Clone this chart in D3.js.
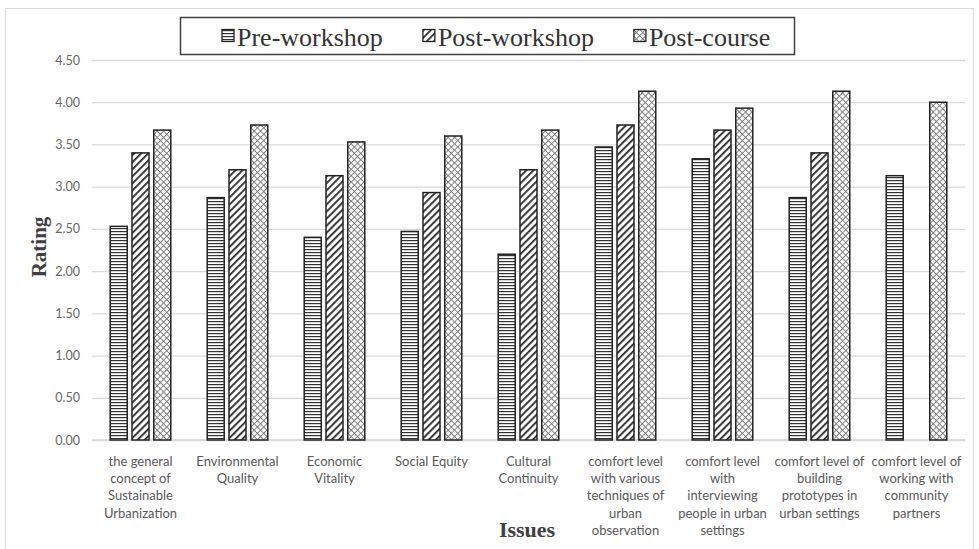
<!DOCTYPE html>
<html>
<head>
<meta charset="utf-8">
<script src="https://cdn.jsdelivr.net/npm/d3@7"></script>
<style>
  html, body { margin: 0; padding: 0; background: #fff; }
  svg { display: block; }
</style>
</head>
<body>
<svg id="chart" width="979" height="549"></svg>
<script>
// Category labels, one entry per line of the wrapped label
const categories = [
  ["the general", "concept of", "Sustainable", "Urbanization"],
  ["Environmental", "Quality"],
  ["Economic", "Vitality"],
  ["Social Equity"],
  ["Cultural", "Continuity"],
  ["comfort level", "with various", "techniques of", "urban", "observation"],
  ["comfort level", "with", "interviewing", "people in urban", "settings"],
  ["comfort level of", "building", "prototypes in", "urban settings"],
  ["comfort level of", "working with", "community", "partners"]
];
const seriesNames = ["Pre-workshop", "Post-workshop", "Post-course"];
const preWorkshop  = [2.53, 2.87, 2.40, 2.47, 2.20, 3.47, 3.33, 2.87, 3.13];
const postWorkshop = [3.40, 3.20, 3.13, 2.93, 3.20, 3.73, 3.67, 3.40, null];
const postCourse   = [3.67, 3.73, 3.53, 3.60, 3.67, 4.13, 3.93, 4.13, 4.00];
const yTicks = [0, 0.5, 1, 1.5, 2, 2.5, 3, 3.5, 4, 4.5];
const yTitle = "Rating";
const xTitle = "Issues";

const seriesValues = [preWorkshop, postWorkshop, postCourse];
const patternIds = ["pat-horiz", "pat-diag", "pat-cross"];

const svg = d3.select("#chart");
const plot = { left: 92, right: 965, top: 60, bottom: 440 };

// Fill patterns
const defs = svg.append("defs");
const ph = defs.append("pattern").attr("id", "pat-horiz")
  .attr("patternUnits", "userSpaceOnUse").attr("width", 6).attr("height", 3);
ph.append("rect").attr("width", 6).attr("height", 3).attr("fill", "#fff");
ph.append("rect").attr("y", 0).attr("width", 6).attr("height", 1.2).attr("fill", "#333");

const pd = defs.append("pattern").attr("id", "pat-diag")
  .attr("patternUnits", "userSpaceOnUse").attr("width", 5).attr("height", 5)
  .attr("patternTransform", "rotate(45)");
pd.append("rect").attr("width", 5).attr("height", 5).attr("fill", "#fff");
pd.append("rect").attr("x", 0).attr("width", 1.8).attr("height", 5).attr("fill", "#2a2a2a");

const pc = defs.append("pattern").attr("id", "pat-cross")
  .attr("patternUnits", "userSpaceOnUse").attr("width", 4.5).attr("height", 4.5)
  .attr("patternTransform", "rotate(45)");
pc.append("rect").attr("width", 4.5).attr("height", 4.5).attr("fill", "#fff");
pc.append("rect").attr("width", 0.9).attr("height", 4.5).attr("fill", "#777");
pc.append("rect").attr("width", 4.5).attr("height", 0.9).attr("fill", "#777");

// Outer chart frame
svg.append("rect")
  .attr("x", 5.5).attr("y", 8.5).attr("width", 968).attr("height", 560)
  .attr("fill", "#fff").attr("stroke", "#d9d9d9").attr("stroke-width", 1);

// Scales
const catKeys = categories.map((c, i) => i);
const x0 = d3.scaleBand().domain(catKeys).range([plot.left, plot.right])
  .paddingInner(0.36).paddingOuter(0.18);
const x1 = d3.scaleBand().domain(d3.range(seriesNames.length))
  .range([0, x0.bandwidth()]).paddingInner(0.15);
const y = d3.scaleLinear().domain([0, 4.5]).range([plot.bottom, plot.top]);

// Gridlines and y tick labels
const yAxis = d3.axisLeft(y).tickValues(yTicks)
  .tickFormat(d => d.toFixed(2))
  .tickSize(-(plot.right - plot.left)).tickPadding(12);
const gy = svg.append("g").attr("transform", `translate(${plot.left},0)`).call(yAxis);
gy.select(".domain").remove();
gy.selectAll(".tick line").attr("stroke", "#d9d9d9").attr("stroke-width", 1.3);
gy.selectAll(".tick text")
  .attr("font-family", "Lato, 'Open Sans', sans-serif")
  .attr("font-size", 12.5).attr("fill", "#666");

// Category axis
const xAxis = d3.axisBottom(x0).tickSize(0).tickFormat("");
const gx = svg.append("g").attr("transform", `translate(0,${plot.bottom})`).call(xAxis);
gx.select(".domain").attr("stroke", "#d9d9d9").attr("stroke-width", 1.3)
  .attr("d", `M${plot.left},0H${plot.right}`);
gx.selectAll(".tick").each(function(d) {
  const t = d3.select(this).append("text")
    .attr("text-anchor", "middle")
    .attr("font-family", "Lato, 'Open Sans', sans-serif")
    .attr("font-size", 13).attr("fill", "#595959");
  categories[d].forEach((line, k) => {
    t.append("tspan").attr("x", 0).attr("y", 26 + k * 17.2).text(line);
  });
});

// Bars
const groups = svg.append("g").selectAll("g")
  .data(catKeys).join("g")
  .attr("transform", d => `translate(${x0(d)},0)`);
groups.selectAll("rect")
  .data(ci => seriesValues.map((vals, si) => ({ si, v: vals[ci] })).filter(o => o.v != null))
  .join("rect")
  .attr("x", o => x1(o.si) + 0.75)
  .attr("width", x1.bandwidth() - 1.5)
  .attr("y", o => y(o.v))
  .attr("height", o => y(0) - y(o.v))
  .attr("fill", o => `url(#${patternIds[o.si]})`)
  .attr("stroke", "#222").attr("stroke-width", 1.5);

// Axis titles
svg.append("text")
  .attr("transform", `translate(39,247) rotate(-90)`)
  .attr("text-anchor", "middle").attr("dominant-baseline", "central")
  .attr("font-family", "'Liberation Serif', 'Times New Roman', serif")
  .attr("font-weight", "bold").attr("font-size", 21).attr("fill", "#404040")
  .text(yTitle);
svg.append("text")
  .attr("x", 527).attr("y", 537)
  .attr("text-anchor", "middle")
  .attr("font-family", "'Liberation Serif', 'Times New Roman', serif")
  .attr("font-weight", "bold").attr("font-size", 22).attr("fill", "#404040")
  .text(xTitle);

// Legend: items laid out left to right with equal gaps
const legend = svg.append("g");
legend.append("rect")
  .attr("x", 180.5).attr("y", 17.5).attr("width", 614).attr("height", 37)
  .attr("fill", "#fff").attr("stroke", "#404040").attr("stroke-width", 1.5);
let lx = 222;
seriesNames.forEach((name, i) => {
  legend.append("rect")
    .attr("x", lx).attr("y", 29.5).attr("width", 12).attr("height", 12)
    .attr("fill", `url(#${patternIds[i]})`)
    .attr("stroke", "#222").attr("stroke-width", 1.3);
  const t = legend.append("text")
    .attr("x", lx + 15).attr("y", 46)
    .attr("font-family", "'Liberation Serif', 'Times New Roman', serif")
    .attr("font-size", 26).attr("fill", "#333")
    .text(name);
  lx += 15 + t.node().getComputedTextLength() + 40;
});
</script>
</body>
</html>
